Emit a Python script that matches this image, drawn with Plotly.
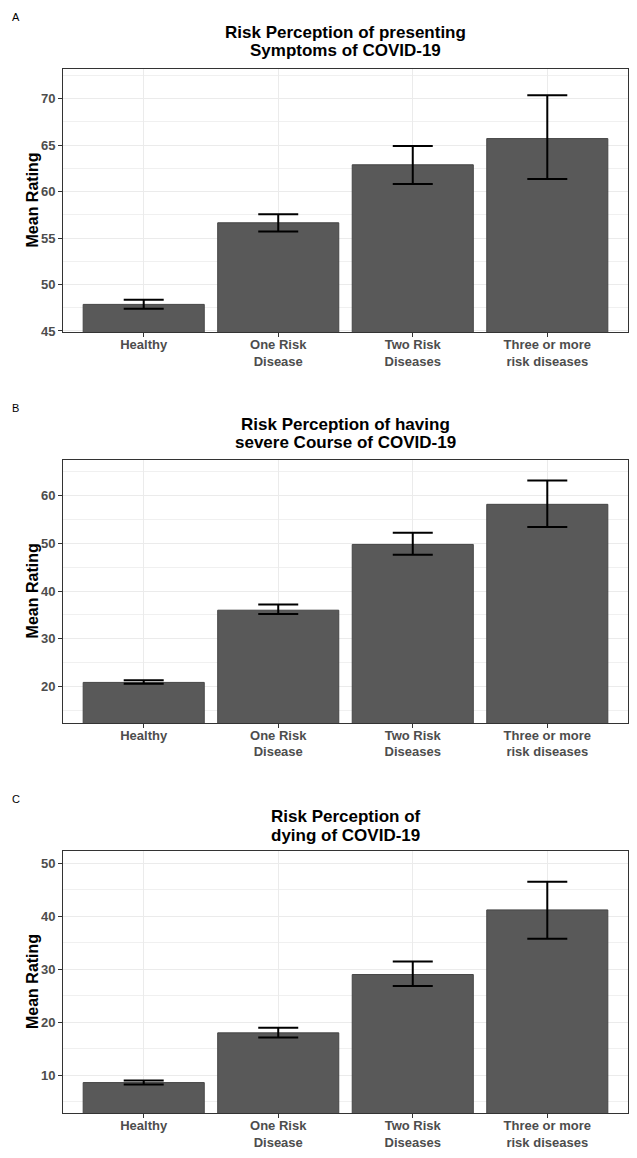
import plotly.graph_objects as go

# ---- data ----
categories = ["Healthy", "One Risk<br>Disease", "Two Risk<br>Diseases", "Three or more<br>risk diseases"]

symptoms_mean = [47.86, 56.64, 62.88, 65.7]
symptoms_lo = [47.4, 55.7, 60.8, 61.35]
symptoms_hi = [48.35, 57.56, 64.9, 70.35]

severe_mean = [20.9, 36.0, 49.75, 58.13]
severe_lo = [20.6, 35.2, 47.6, 53.4]
severe_hi = [21.37, 37.17, 52.2, 63.1]

dying_mean = [8.63, 18.02, 29.03, 41.23]
dying_lo = [8.25, 17.14, 26.85, 35.8]
dying_hi = [9.0, 18.96, 31.5, 46.56]

panel_letters = ["A", "B", "C"]
title_lines = [
    ["Risk Perception of presenting", "Symptoms of COVID-19"],
    ["Risk Perception of having", "severe Course of COVID-19"],
    ["Risk Perception of", "dying of COVID-19"],
]
y_ranges = [[44.86, 73.22], [12.43, 67.42], [2.8, 52.44]]
y_dticks = [5, 10, 10]
y_label = "Mean Rating"

# ---- layout geometry (page pixels; page body has an 8px default margin) ----
PAGE_W, PAGE_H = 637, 1158
OFF = 8
W, H = PAGE_W - 2 * OFF, PAGE_H - 2 * OFF
plot_left, plot_right = 63, 628
panels_px = [(69, 334), (462.3, 726.7), (855, 1119.3)]  # (top, bottom)
letter_y_px = [17, 410, 803]
title_y_px = [(33, 50.7), (426.5, 445), (820.7, 840)]

FONT = "Liberation Sans, Arial, Helvetica, sans-serif"
BAR_COLOR = "#595959"
GRID = "#EBEBEB"
BORDER = "#333333"
TICKCOL = "#4D4D4D"

def px_x(p):
    return (p - OFF) / W

def px_y(p):
    return 1 - (p - OFF) / H

series = [
    (symptoms_mean, symptoms_lo, symptoms_hi),
    (severe_mean, severe_lo, severe_hi),
    (dying_mean, dying_lo, dying_hi),
]

fig = go.Figure()
annotations = []
layout_axes = {}
xc = px_x((plot_left + plot_right) / 2)

for i, (mean, lo, hi) in enumerate(series):
    n = "" if i == 0 else str(i + 1)
    fig.add_trace(go.Bar(
        x=categories, y=mean,
        xaxis="x" + n, yaxis="y" + n,
        width=0.9,
        marker=dict(color=BAR_COLOR, line=dict(color="#454545", width=1)),
        error_y=dict(type="data", symmetric=False,
                     array=[h - m for h, m in zip(hi, mean)],
                     arrayminus=[m - l for m, l in zip(mean, lo)],
                     color="black", thickness=2, width=20),
        showlegend=False,
    ))
    top, bot = panels_px[i]
    layout_axes["xaxis" + n] = dict(
        domain=[px_x(plot_left), px_x(plot_right)], anchor="y" + n,
        type="category", range=[-0.6, 3.6],
        showgrid=True, gridcolor=GRID, gridwidth=1,
        showline=True, mirror=True, linecolor=BORDER, linewidth=1,
        ticks="outside", ticklen=4, tickcolor=BORDER, tickwidth=1,
        ticklabelstandoff=-4,
        tickfont=dict(family=FONT, size=13, color=TICKCOL, weight="bold"),
        zeroline=False, fixedrange=True,
    )
    layout_axes["yaxis" + n] = dict(
        domain=[px_y(bot), px_y(top)], anchor="x" + n,
        range=y_ranges[i], dtick=y_dticks[i], tick0=0,
        showgrid=True, gridcolor=GRID, gridwidth=1,
        minor=dict(showgrid=True, dtick=y_dticks[i] / 2, tick0=0,
                   gridcolor="#F0F0F0", gridwidth=0.7),
        showline=True, mirror=True, linecolor=BORDER, linewidth=1,
        ticks="outside", ticklen=4, tickcolor=BORDER, tickwidth=1,
        tickfont=dict(family=FONT, size=13, color=TICKCOL, weight="bold"),
        zeroline=False, fixedrange=True,
    )
    # panel letter
    annotations.append(dict(text=panel_letters[i], x=px_x(10), y=px_y(letter_y_px[i]),
                            xref="paper", yref="paper", xanchor="left", yanchor="middle",
                            showarrow=False, font=dict(family=FONT, size=11, color="black")))
    # title lines
    for line, ypx in zip(title_lines[i], title_y_px[i]):
        annotations.append(dict(text=line, x=xc, y=px_y(ypx), xref="paper", yref="paper",
                                xanchor="center", yanchor="middle", showarrow=False,
                                font=dict(family=FONT, size=17, color="black", weight="bold")))
    # y-axis label
    annotations.append(dict(text=y_label, x=px_x(32), y=px_y((top + bot) / 2),
                            xref="paper", yref="paper", xanchor="center", yanchor="middle",
                            textangle=-90, showarrow=False,
                            font=dict(family=FONT, size=16, color="black", weight="bold")))

fig.update_layout(
    width=W, height=H,
    margin=dict(l=0, r=0, t=0, b=0),
    paper_bgcolor="white", plot_bgcolor="white",
    annotations=annotations,
    bargap=0.1,
    **layout_axes,
)

fig.write_html("out.html")
